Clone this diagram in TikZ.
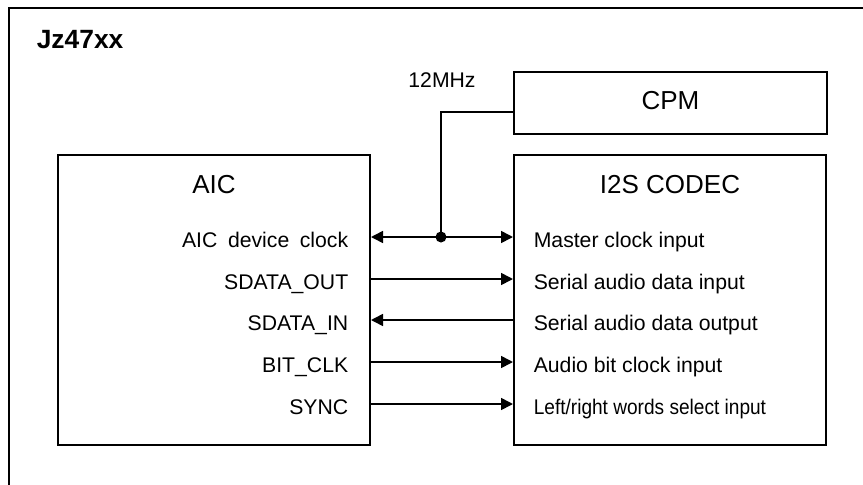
\documentclass[tikz,border=0pt]{standalone}
\usepackage{fontspec}
\setmainfont{Liberation Sans}
\usetikzlibrary{arrows.meta, positioning, calc}
\tikzset{
  every picture/.style={line width=1.6pt},
  block/.style={draw, line width=2pt, minimum width=312pt, inner sep=0pt},
  heading/.style={font=\fontsize{26}{29}\selectfont, inner sep=0pt, anchor=base},
  pin/.style={font=\fontsize{21.2}{24}\selectfont, inner sep=0pt},
  sig/.style={-{Triangle[length=12pt, width=12pt]}, line width=1.6pt},
  bisig/.style={{Triangle[length=12pt, width=12pt]}-{Triangle[length=12pt, width=12pt]}, line width=1.6pt},
}

\begin{document}
\begin{tikzpicture}[x=1pt, y=-1pt]
  \useasboundingbox (0,0) rectangle (863,485);
  % outer chip frame, cut at the right and bottom
  \draw[line width=2pt] (9,485) |- (863,8);
  \node[font=\bfseries\fontsize{26.4}{29}\selectfont, inner sep=0pt, anchor=base west] (chip) at (36,48) {Jz47xx};

  % blocks
  \node[block, minimum height=290pt, anchor=north west] (aic) at (57,154) {};
  \node[block, minimum height=290pt, anchor=north west] (codec) at (513,154) {};
  \node[block, minimum width=313pt, minimum height=62pt, anchor=north west] (cpm) at (513,71) {};
  \node[heading] (aictitle) at (aic.center |- 0,193) {AIC};
  \node[heading] (codectitle) at (codec.center |- 0,193) {I2S CODEC};
  \node[heading] (cpmtitle) at (cpm.center |- 0,109) {CPM};

  % pin labels
  \foreach \i/\l/\r/\y in {1/{AIC\enspace device\enspace clock}/{Master clock input}/237,
                           2/{SDATA\_OUT}/{Serial audio data input}/279,
                           3/{SDATA\_IN}/{Serial audio data output}/320,
                           4/{BIT\_CLK}/{Audio bit clock input}/362,
                           5/{SYNC}/{\scalebox{0.9}[1]{Left/right words select input}}/404} {
    \node[pin, anchor=base east] (l\i) at (349,\y+10) {\l};
    \node[pin, anchor=base west] (r\i) at (533,\y+10) {\r};
    \coordinate (row\i) at (441,\y);
  }

  % signals
  \draw[bisig] (aic.east |- row1) -- (codec.west |- row1);
  \draw[sig] (aic.east |- row2) -- (codec.west |- row2);
  \draw[sig] (codec.west |- row3) -- (aic.east |- row3);
  \draw[sig] (aic.east |- row4) -- (codec.west |- row4);
  \draw[sig] (aic.east |- row5) -- (codec.west |- row5);

  % 12MHz clock from CPM
  \coordinate (cpmout) at (cpm.west |- 0,112);
  \draw (cpmout) -| (row1);
  \fill (row1) circle (5.5pt);
  \node[pin, anchor=base] (mhz) at (442,87) {12MHz};
\end{tikzpicture}
\end{document}
